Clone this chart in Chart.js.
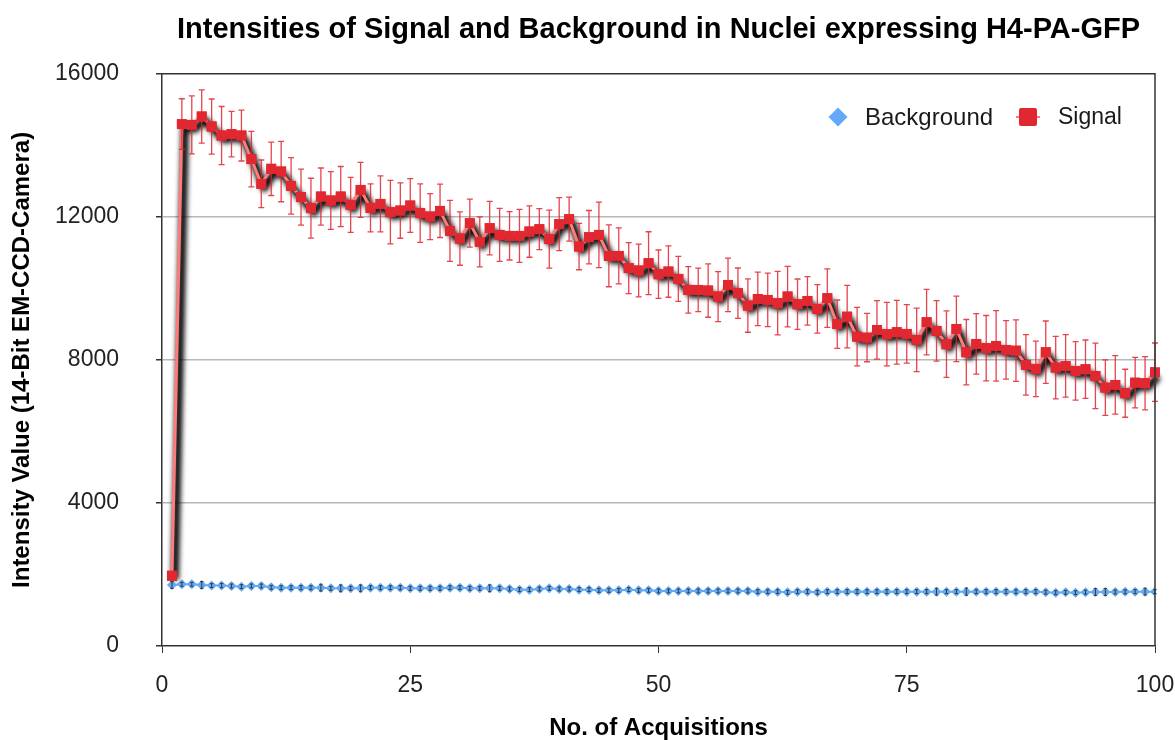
<!DOCTYPE html>
<html>
<head>
<meta charset="utf-8">
<script src="https://cdn.jsdelivr.net/npm/chart.js@4"></script>
<style>
  html, body { margin: 0; padding: 0; background: #fff; }
  #wrap { width: 1175px; height: 740px; }
</style>
</head>
<body>
<div id="wrap"><canvas id="chart" width="1175" height="740"></canvas></div>
<script>
// x positions 1..100 (acquisition number)
const acquisitions = Array.from({ length: 100 }, (_, i) => i + 1);

const signalValues = [
    1966, 14593, 14573, 14806, 14526, 14274, 14313, 14274, 13614, 12923,
    13343, 13267, 12867, 12551, 12243, 12568, 12456, 12568, 12336, 12755,
    12252, 12364, 12131, 12176, 12316, 12103, 12008, 12168, 11608, 11393,
    11824, 11301, 11684, 11497, 11469, 11469, 11589, 11656, 11376, 11796,
    11936, 11169, 11432, 11497, 10909, 10909, 10565, 10498, 10705, 10397,
    10470, 10266, 9958, 9958, 9939, 9771, 10098, 9866, 9519, 9706,
    9678, 9586, 9771, 9558, 9650, 9427, 9726, 8999, 9211, 8652,
    8624, 8839, 8719, 8775, 8727, 8559, 9055, 8811, 8439, 8867,
    8215, 8448, 8327, 8392, 8280, 8260, 7860, 7748, 8215, 7785,
    7832, 7692, 7740, 7552, 7225, 7301, 7068, 7365, 7348, 7656
];

const signalErrors = [
    100, 709, 812, 742, 770, 812, 634, 713, 775, 667,
    746, 845, 789, 784, 836, 798, 808, 840, 770, 770,
    671, 784, 887, 775, 751, 817, 643, 746, 854, 746,
    671, 700, 746, 742, 676, 742, 718, 573, 812, 742,
    615, 648, 746, 915, 864, 784, 713, 737, 878, 676,
    718, 629, 648, 606, 746, 700, 746, 704, 746, 746,
    746, 887, 845, 704, 676, 676, 817, 676, 873, 817,
    676, 817, 887, 892, 817, 887, 915, 845, 930, 915,
    915, 845, 915, 986, 817, 859, 845, 775, 873, 873,
    873, 817, 817, 915, 775, 817, 671, 704, 746, 817
];

const backgroundValues = [
    1706, 1725, 1725, 1706, 1690, 1690, 1678, 1660, 1678, 1678,
    1640, 1631, 1631, 1631, 1631, 1631, 1613, 1613, 1613, 1613,
    1631, 1631, 1631, 1631, 1613, 1613, 1613, 1613, 1631, 1631,
    1613, 1613, 1613, 1613, 1594, 1576, 1576, 1594, 1613, 1594,
    1594, 1576, 1576, 1557, 1557, 1557, 1576, 1557, 1557, 1538,
    1538, 1538, 1538, 1538, 1538, 1538, 1538, 1538, 1538, 1520,
    1520, 1520, 1501, 1520, 1520, 1501, 1520, 1520, 1520, 1520,
    1520, 1520, 1520, 1520, 1520, 1520, 1520, 1520, 1520, 1520,
    1520, 1520, 1520, 1520, 1520, 1520, 1520, 1520, 1505, 1490,
    1500, 1490, 1505, 1510, 1510, 1510, 1515, 1520, 1520, 1520
];

const backgroundErrors = [
    95, 55, 55, 95, 55, 60, 55, 55, 55, 55,
    55, 55, 55, 60, 55, 95, 55, 95, 55, 95,
    55, 55, 55, 60, 55, 55, 55, 55, 55, 55,
    55, 55, 95, 55, 55, 55, 55, 55, 55, 55,
    55, 55, 55, 55, 55, 55, 55, 55, 55, 55,
    55, 55, 55, 55, 55, 55, 55, 55, 55, 55,
    55, 55, 55, 55, 55, 55, 55, 55, 55, 55,
    55, 55, 55, 55, 55, 55, 55, 95, 55, 55,
    100, 55, 55, 55, 55, 55, 55, 55, 55, 55,
    55, 55, 55, 95, 95, 55, 55, 55, 95, 55
];

const yTicks = [0, 4000, 8000, 12000, 16000];
const xTicks = [0, 25, 50, 75, 100];

const FONT = "'Liberation Sans', Arial, Helvetica, sans-serif";
const SIGNAL_RED = '#e1272f';
const SIGNAL_LINE = '#ff7a78';
const BG_BLUE = '#62aaf8';

function toPoints(values) {
    return values.map((v, i) => ({ x: acquisitions[i], y: v }));
}

function drawErrorBars(chart, meta, errors, color, cap, width) {
    const ctx = chart.ctx;
    const yScale = chart.scales.y;
    ctx.save();
    ctx.strokeStyle = color;
    ctx.lineWidth = width;
    meta.data.forEach((pt, i) => {
        const raw = meta._dataset.data[i].y;
        const top = yScale.getPixelForValue(raw + errors[i]);
        const bot = yScale.getPixelForValue(raw - errors[i]);
        ctx.beginPath();
        ctx.moveTo(pt.x, top);
        ctx.lineTo(pt.x, bot);
        ctx.moveTo(pt.x - cap, top);
        ctx.lineTo(pt.x + cap, top);
        ctx.moveTo(pt.x - cap, bot);
        ctx.lineTo(pt.x + cap, bot);
        ctx.stroke();
    });
    ctx.restore();
}

// blurred black shadow under the signal line, error bars, markers on top
const signalShadow = {
    id: 'signalShadow',
    beforeDatasetDraw(chart, args) {
        if (args.meta._dataset.label !== 'Signal') return;
        const ctx = chart.ctx;
        const pts = args.meta.data;
        ctx.save();
        ctx.filter = 'blur(2.5px)';
        ctx.strokeStyle = 'rgba(0,0,0,0.95)';
        ctx.lineWidth = 8;
        ctx.lineJoin = 'round';
        ctx.beginPath();
        pts.forEach((p, i) => {
            if (i === 0) ctx.moveTo(p.x + 3, p.y + 4);
            else ctx.lineTo(p.x + 3, p.y + 4);
        });
        ctx.stroke();
        ctx.restore();
    },
    afterDatasetDraw(chart, args) {
        const label = args.meta._dataset.label;
        if (label === 'Signal') {
            drawErrorBars(chart, args.meta, signalErrors, 'rgba(225,35,45,0.85)', 3, 1.3);
            args.meta.data.forEach(p => p.draw(chart.ctx, chart.chartArea));
        } else if (label === 'Background') {
            drawErrorBars(chart, args.meta, backgroundErrors, '#3a3a3a', 1.7, 1);
        }
    }
};

// box border + legend inside the plot
const frameAndLegend = {
    id: 'frameAndLegend',
    afterDraw(chart) {
        const ctx = chart.ctx;
        const a = chart.chartArea;
        ctx.save();
        ctx.strokeStyle = '#333';
        ctx.lineWidth = 1.5;
        ctx.beginPath();
        ctx.moveTo(a.left, a.top);
        ctx.lineTo(a.right, a.top);
        ctx.lineTo(a.right, a.bottom);
        ctx.stroke();

        const ly = 117;
        // Background marker
        ctx.fillStyle = BG_BLUE;
        ctx.beginPath();
        ctx.moveTo(838, ly - 9.5);
        ctx.lineTo(847.5, ly);
        ctx.lineTo(838, ly + 9.5);
        ctx.lineTo(828.5, ly);
        ctx.closePath();
        ctx.fill();
        // Signal marker
        ctx.strokeStyle = SIGNAL_LINE;
        ctx.lineWidth = 2;
        ctx.beginPath();
        ctx.moveTo(1016, ly);
        ctx.lineTo(1040, ly);
        ctx.stroke();
        ctx.fillStyle = SIGNAL_RED;
        ctx.beginPath();
        ctx.roundRect(1019, ly - 9, 18, 18, 2);
        ctx.fill();

        ctx.fillStyle = '#1a1a1a';
        ctx.font = '24px ' + FONT;
        ctx.textBaseline = 'middle';
        ctx.textAlign = 'left';
        ctx.fillText('Background', 865, ly + 1);
        ctx.font = '23px ' + FONT;
        ctx.fillText('Signal', 1058, ly + 1);
        ctx.restore();
    }
};

new Chart(document.getElementById('chart'), {
    type: 'line',
    data: {
        datasets: [
            {
                label: 'Signal',
                data: toPoints(signalValues),
                borderColor: SIGNAL_LINE,
                borderWidth: 3,
                pointStyle: 'rect',
                pointRadius: 7,
                pointBackgroundColor: SIGNAL_RED,
                pointBorderColor: SIGNAL_RED,
                pointBorderWidth: 0,
                tension: 0
            },
            {
                label: 'Background',
                data: toPoints(backgroundValues),
                borderColor: BG_BLUE,
                borderWidth: 2,
                pointStyle: 'rectRot',
                pointRadius: 5,
                pointBackgroundColor: BG_BLUE,
                pointBorderWidth: 0,
                tension: 0
            }
        ]
    },
    options: {
        responsive: false,
        animation: false,
        layout: { padding: { left: 0, right: 0, top: 0, bottom: 0 } },
        plugins: {
            legend: { display: false },
            tooltip: { enabled: false },
            title: {
                display: true,
                fullSize: false,
                text: 'Intensities of Signal and Background in Nuclei expressing H4-PA-GFP',
                color: '#000',
                font: { family: FONT, size: 29, weight: 'bold' },
                padding: { top: 13, bottom: 26 }
            }
        },
        scales: {
            x: {
                type: 'linear',
                min: 0,
                max: 100,
                afterBuildTicks: s => { s.ticks = xTicks.map(v => ({ value: v })); },
                afterFit: s => { s.height = 94; s.paddingRight = 20; },
                ticks: {
                    color: '#222',
                    font: { family: FONT, size: 23 },
                    padding: 19,
                    maxRotation: 0,
                    callback: v => String(v)
                },
                grid: {
                    drawOnChartArea: false,
                    drawTicks: true,
                    tickLength: 7,
                    tickColor: '#333'
                },
                border: { color: '#333', width: 1.5 },
                title: {
                    display: true,
                    text: 'No. of Acquisitions',
                    color: '#000',
                    font: { family: FONT, size: 24, weight: 'bold' },
                    padding: { top: 0, bottom: -3 }
                }
            },
            y: {
                min: 0,
                max: 16000,
                afterBuildTicks: s => { s.ticks = yTicks.map(v => ({ value: v })); },
                afterFit: s => { s.width = 162; },
                ticks: {
                    color: '#222',
                    font: { family: FONT, size: 23 },
                    padding: 37,
                    callback: v => String(v)
                },
                grid: {
                    color: ctx => (ctx.tick && (ctx.tick.value === 0 || ctx.tick.value === 16000)) ? 'rgba(0,0,0,0)' : '#b8b8b8',
                    lineWidth: 1.5,
                    tickLength: 6,
                    tickColor: '#333'
                },
                border: { color: '#333', width: 1.5 },
                title: {
                    display: true,
                    text: 'Intensity Value (14-Bit EM-CCD-Camera)',
                    color: '#000',
                    font: { family: FONT, size: 24, weight: 'bold' },
                    padding: { top: 8, bottom: 0 }
                }
            }
        }
    },
    plugins: [signalShadow, frameAndLegend]
});
</script>
</body>
</html>
